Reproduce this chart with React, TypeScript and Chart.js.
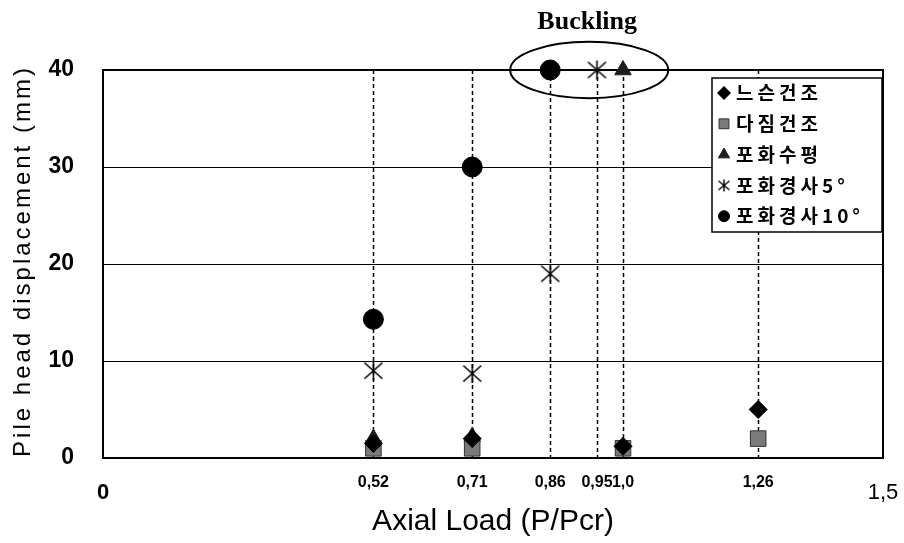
import React, { useEffect, useRef } from "react";
import { Chart, registerables } from "chart.js";
import { drawPoint } from "chart.js/helpers";

Chart.register(...registerables);

// ---- data ----
const xTickValues = [0.52, 0.71, 0.86, 0.95, 1.0, 1.26];
const xTickLabels = ["0,52", "0,71", "0,86", "0,95", "1,0", "1,26"];
const xEndValues = [0, 1.5];
const xEndLabels = ["0", "1,5"];
const yTickValues = [0, 10, 20, 30, 40];

const seriesNames = ["느슨건조", "다짐건조", "포화수평", "포화경사5°", "포화경사10°"];
const looseDryX = [0.52, 0.71, 1.0, 1.26];
const looseDryY = [1.5, 2.0, 1.2, 5.0];
const denseDryX = [0.52, 0.71, 1.0, 1.26];
const denseDryY = [1.0, 1.0, 1.0, 2.0];
const satLevelX = [0.52, 0.71, 1.0];
const satLevelY = [2.0, 2.2, 40];
const satSlope5X = [0.52, 0.71, 0.86, 0.95];
const satSlope5Y = [9.0, 8.7, 19.0, 40];
const satSlope10X = [0.52, 0.71, 0.86];
const satSlope10Y = [14.3, 30.0, 40];

const bucklingLabel = "Buckling";
const bucklingXRange = [0.783, 1.087];
const bucklingY = 40;
const bucklingYHalf = 2.9;

const yTitle = "Pile head displacement (mm)";
const xTitle = "Axial Load (P/Pcr)";

const allXTicks = [...xEndValues.slice(0, 1), ...xTickValues, ...xEndValues.slice(1)];

function zip(xs: number[], ys: number[]) {
  return xs.map((x, i) => ({ x, y: ys[i] }));
}

function makeAsterisk(size: number, lw: number) {
  const c = document.createElement("canvas");
  c.width = size;
  c.height = size;
  const g = c.getContext("2d")!;
  g.strokeStyle = "#000";
  g.lineWidth = lw;
  const m = size / 2;
  const rx = size / 2 - 1.5;
  const ry = size / 2 - 2.5;
  g.beginPath();
  g.moveTo(m - rx, m - ry);
  g.lineTo(m + rx, m + ry);
  g.moveTo(m + rx, m - ry);
  g.lineTo(m - rx, m + ry);
  g.moveTo(m, 1);
  g.lineTo(m, size - 1);
  g.stroke();
  return c;
}

export default function App() {
  const ref = useRef<HTMLCanvasElement | null>(null);

  useEffect(() => {
    const canvas = ref.current;
    if (!canvas) return;
    const bigStar = makeAsterisk(21, 1.6);
    const smallStar = makeAsterisk(14, 1.4);

    const styles = [
      { pointStyle: "rectRot", radius: 9, bg: "#000", bc: "#000", lr: 6.5 },
      { pointStyle: "rect", radius: 11, bg: "#7a7a7a", bc: "#333", lr: 7 },
      { pointStyle: "triangle", radius: 9.5, bg: "#1e1e1e", bc: "#1e1e1e", lr: 6.5 },
      { pointStyle: bigStar, radius: 10, bg: "#000", bc: "#000", lr: 6 },
      { pointStyle: "circle", radius: 10, bg: "#000", bc: "#000", lr: 5.5 },
    ];
    const xsAll = [looseDryX, denseDryX, satLevelX, satSlope5X, satSlope10X];
    const ysAll = [looseDryY, denseDryY, satLevelY, satSlope5Y, satSlope10Y];

    const datasets = seriesNames.map((name, i) => ({
      label: name,
      data: zip(xsAll[i], ysAll[i]),
      showLine: false,
      pointStyle: styles[i].pointStyle as any,
      pointRadius: styles[i].radius,
      pointBackgroundColor: styles[i].bg,
      pointBorderColor: styles[i].bc,
      pointBorderWidth: 1,
      clip: false as any,
    }));

    const decor = {
      id: "decor",
      beforeDatasetsDraw(chart: any) {
        const { ctx, chartArea } = chart;
        const xs = chart.scales.x;
        ctx.save();
        ctx.strokeStyle = "#000";
        ctx.lineWidth = 1.5;
        ctx.setLineDash([4, 3]);
        xTickValues.forEach((v) => {
          const px = Math.round(xs.getPixelForValue(v)) + 0.5;
          ctx.beginPath();
          ctx.moveTo(px, chartArea.top);
          ctx.lineTo(px, chartArea.bottom + 4);
          ctx.stroke();
        });
        ctx.setLineDash([]);
        ctx.lineWidth = 2;
        ctx.strokeRect(
          chartArea.left,
          chartArea.top,
          chartArea.right - chartArea.left,
          chartArea.bottom - chartArea.top
        );
        ctx.restore();
      },
      afterDraw(chart: any) {
        const { ctx, chartArea } = chart;
        const xs = chart.scales.x;
        const ys = chart.scales.y;
        ctx.save();
        // y title
        ctx.translate(23, (chartArea.top + chartArea.bottom) / 2 - 3);
        ctx.rotate(-Math.PI / 2);
        ctx.font = "24px 'Liberation Sans', Arial, sans-serif";
        (ctx as any).letterSpacing = "3px";
        ctx.fillStyle = "#000";
        ctx.textAlign = "center";
        ctx.textBaseline = "middle";
        ctx.fillText(yTitle, 0, 0);
        ctx.restore();

        // buckling ellipse
        const x1 = xs.getPixelForValue(bucklingXRange[0]);
        const x2 = xs.getPixelForValue(bucklingXRange[1]);
        const cy = ys.getPixelForValue(bucklingY);
        const ry = Math.abs(ys.getPixelForValue(bucklingY - bucklingYHalf) - cy);
        ctx.save();
        ctx.strokeStyle = "#000";
        ctx.lineWidth = 2;
        ctx.beginPath();
        ctx.ellipse((x1 + x2) / 2, cy, (x2 - x1) / 2, ry, 0, 0, Math.PI * 2);
        ctx.stroke();
        ctx.font = "bold 26px 'Liberation Serif', 'DejaVu Serif', serif";
        ctx.fillStyle = "#000";
        ctx.textAlign = "center";
        ctx.textBaseline = "middle";
        ctx.fillText(bucklingLabel, (x1 + x2) / 2 - 2, 22);
        ctx.restore();

        // legend
        const lx = 712, ly = 78, lw = 170, lh = 154;
        ctx.save();
        ctx.fillStyle = "#fff";
        ctx.fillRect(lx, ly, lw, lh);
        ctx.strokeStyle = "#000";
        ctx.lineWidth = 1.5;
        ctx.strokeRect(lx, ly, lw, lh);
        seriesNames.forEach((name, i) => {
          const ry2 = 93 + i * 30.8;
          const st = styles[i];
          ctx.fillStyle = st.bg;
          ctx.strokeStyle = st.bc;
          ctx.lineWidth = 1;
          const ps = i === 3 ? smallStar : st.pointStyle;
          drawPoint(ctx, { pointStyle: ps as any, radius: st.lr, rotation: 0, borderWidth: 1 } as any, 724, ry2);
          ctx.fillStyle = "#000";
          ctx.font = "bold 19px 'Noto Sans CJK KR', sans-serif";
          (ctx as any).letterSpacing = "4px";
          ctx.textAlign = "left";
          ctx.textBaseline = "middle";
          ctx.fillText(name, 736, ry2);
        });
        ctx.restore();
      },
    };

    const isEnd = (v: number) => xEndValues.indexOf(v) >= 0;

    const chart = new Chart(canvas, {
      type: "scatter",
      data: { datasets: datasets as any },
      options: {
        responsive: false,
        animation: false,
        layout: { padding: { top: 70, right: 21, left: 0, bottom: 0 } },
        plugins: { legend: { display: false }, tooltip: { enabled: false } },
        scales: {
          x: {
            type: "linear",
            min: 0,
            max: 1.5,
            position: "bottom",
            grid: { display: false, drawTicks: false },
            border: { display: false },
            afterBuildTicks: (s: any) => {
              s.ticks = allXTicks.map((v) => ({ value: v }));
            },
            afterFit: (s: any) => {
              s.height = 85;
              s.paddingLeft = 0;
              s.paddingRight = 0;
            },
            ticks: {
              autoSkip: false,
              maxRotation: 0,
              padding: 15,
              color: "#000",
              font: (c: any) => {
                const v = c.tick ? c.tick.value : 0;
                if (isEnd(v)) {
                  return {
                    family: "'Liberation Sans', Arial, sans-serif",
                    size: 22,
                    weight: v === 0 ? "bold" : "normal",
                    lineHeight: "40px",
                  };
                }
                return {
                  family: "'Liberation Sans Narrow', 'Liberation Sans', Arial, sans-serif",
                  size: 16,
                  weight: "bold",
                  lineHeight: "20px",
                };
              },
              callback: (v: any) => {
                const n = Number(v);
                const i = xTickValues.indexOf(n);
                if (i >= 0) return xTickLabels[i];
                const j = xEndValues.indexOf(n);
                return j >= 0 ? xEndLabels[j] : "";
              },
            },
            title: {
              display: true,
              text: xTitle,
              color: "#000",
              font: { family: "'Liberation Sans', Arial, sans-serif", size: 30 },
              padding: { top: 0, bottom: 3 },
            },
          },
          y: {
            type: "linear",
            min: 0,
            max: 40,
            position: "left",
            grid: { color: "#000", lineWidth: 1, drawTicks: false },
            border: { display: false },
            afterBuildTicks: (s: any) => {
              s.ticks = yTickValues.map((v) => ({ value: v }));
            },
            afterFit: (s: any) => {
              s.width = 103;
              s.paddingTop = 0;
              s.paddingBottom = 0;
            },
            ticks: {
              padding: 29,
              color: "#000",
              font: { family: "'Liberation Sans', Arial, sans-serif", size: 23, weight: "bold" },
            },
          },
        },
      },
      plugins: [decor],
    });
    return () => chart.destroy();
  }, []);

  return (
    <div style={{ position: "fixed", left: 0, top: 0, width: 904, height: 543, background: "#fff" }}>
      <canvas ref={ref} width={904} height={543} style={{ width: 904, height: 543, display: "block" }} />
    </div>
  );
}
